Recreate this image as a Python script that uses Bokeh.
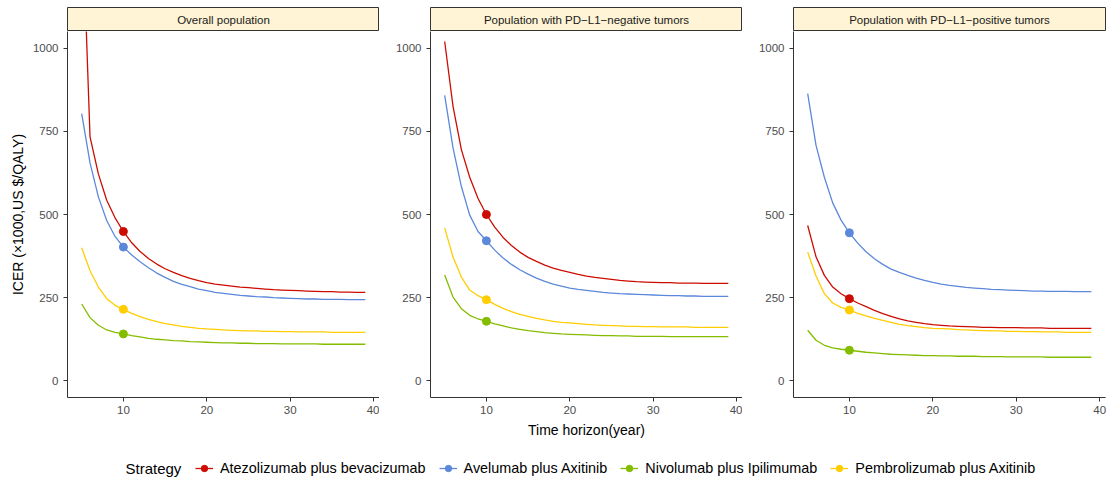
from bokeh.plotting import figure
from bokeh.models import Range1d, FixedTicker, Legend, LegendItem, Label
from bokeh.layouts import row, column
from bokeh.embed import file_html
from bokeh.resources import INLINE

# Time horizon in years
YEARS = [5, 6, 7, 8, 9, 10, 11, 12, 13, 14, 15, 16, 17, 18, 19, 20, 21, 22,
         23, 24, 25, 26, 27, 28, 29, 30, 31, 32, 33, 34, 35, 36, 37, 38, 39]
BASE_YEAR = 10

STRATEGIES = ["Atezolizumab plus bevacizumab", "Avelumab plus Axitinib",
              "Nivolumab plus Ipilimumab", "Pembrolizumab plus Axitinib"]
COLORS = ["#CC0C00", "#5C88DA", "#84BD00", "#FFCD00"]

PANEL_TITLES = ["Overall population",
                "Population with PD\u2212L1\u2212negative tumors",
                "Population with PD\u2212L1\u2212positive tumors"]

Y_TICKS = [0, 250, 500, 750, 1000]
X_TICKS = [10, 20, 30, 40]

# ICER (x1000 US$/QALY), overall population
OVERALL_ATEZO = [1450, 733, 622, 543, 490, 449, 415, 389, 368, 351, 337, 326, 316, 308, 301, 295, 291, 288,
                 285, 282, 280, 278, 276, 274, 273, 272, 271, 270, 269, 268, 268, 267, 267, 266, 266]
OVERALL_AVEL = [803, 655, 553, 482, 434, 402, 378, 358, 340, 324, 311, 299, 290, 283, 276, 271, 266, 263,
                260, 257, 255, 253, 252, 250, 249, 248, 247, 246, 246, 245, 245, 245, 244, 244, 244]
OVERALL_NIVO = [231, 190, 167, 153, 146, 141, 136, 132, 128, 125, 123, 121, 120, 118, 117, 116, 115, 114,
                114, 113, 113, 112, 112, 112, 111, 111, 111, 111, 111, 110, 110, 110, 110, 110, 110]
OVERALL_PEMBRO = [400, 331, 282, 247, 227, 215, 203, 193, 185, 178, 172, 168, 164, 161, 158, 156, 155, 153,
                  152, 151, 150, 150, 149, 149, 148, 148, 147, 147, 147, 147, 146, 146, 146, 146, 146]

# PD-L1-negative tumors
NEG_ATEZO = [1020, 825, 695, 612, 548, 500, 462, 431, 407, 387, 371, 359, 348, 339, 332, 326, 320, 315,
             311, 308, 305, 302, 300, 298, 297, 296, 295, 295, 294, 294, 294, 293, 293, 293, 293]
NEG_AVEL = [858, 700, 584, 498, 449, 421, 393, 369, 350, 334, 321, 309, 299, 291, 285, 279, 275, 272,
            269, 266, 264, 262, 261, 260, 259, 258, 257, 256, 256, 255, 255, 254, 254, 254, 254]
NEG_NIVO = [318, 252, 217, 197, 186, 179, 171, 165, 159, 155, 151, 148, 145, 143, 141, 140, 139, 138,
            137, 136, 136, 135, 135, 134, 134, 134, 134, 133, 133, 133, 133, 133, 133, 133, 133]
NEG_PEMBRO = [460, 372, 312, 273, 256, 244, 230, 218, 208, 200, 194, 188, 183, 179, 176, 174, 172, 170,
              168, 167, 166, 165, 164, 164, 163, 163, 162, 162, 162, 162, 161, 161, 161, 161, 161]

# PD-L1-positive tumors
POS_ATEZO = [467, 373, 317, 282, 262, 247, 234, 223, 212, 202, 194, 186, 180, 176, 172, 169, 167, 165,
             164, 163, 162, 161, 161, 160, 160, 160, 159, 159, 159, 158, 158, 158, 158, 158, 158]
POS_AVEL = [863, 708, 612, 535, 483, 445, 414, 388, 367, 350, 336, 326, 317, 309, 302, 296, 291, 287,
            284, 281, 279, 277, 275, 274, 273, 272, 271, 270, 270, 269, 269, 269, 268, 268, 268]
POS_NIVO = [152, 122, 107, 99, 95, 92, 89, 86, 84, 82, 80, 79, 78, 77, 76, 76, 75, 75,
            74, 74, 74, 73, 73, 73, 72, 72, 72, 72, 72, 71, 71, 71, 71, 71, 71]
POS_PEMBRO = [387, 315, 262, 234, 221, 213, 203, 195, 188, 182, 176, 170, 166, 163, 160, 158, 157, 156,
              154, 153, 152, 151, 150, 150, 149, 149, 148, 148, 147, 147, 147, 146, 146, 146, 146]

PANEL_SERIES = [
    [OVERALL_ATEZO, OVERALL_AVEL, OVERALL_NIVO, OVERALL_PEMBRO],
    [NEG_ATEZO, NEG_AVEL, NEG_NIVO, NEG_PEMBRO],
    [POS_ATEZO, POS_AVEL, POS_NIVO, POS_PEMBRO],
]

FONT = "Liberation Sans"
STRIP_FILL = "#FFF4D5"
AXIS_COLOR = "#333333"
FRAME_W = 312
FRAME_H = 366


def make_strip(title, left, right):
    s = figure(frame_width=FRAME_W, frame_height=24, min_border_left=left, min_border_right=right,
               min_border_top=7, min_border_bottom=0,
               x_range=Range1d(0, 1), y_range=Range1d(0, 1),
               x_axis_location=None, y_axis_location=None,
               toolbar_location=None, output_backend="svg")
    s.grid.visible = False
    s.background_fill_color = STRIP_FILL
    s.border_fill_color = "white"
    s.outline_line_color = AXIS_COLOR
    s.outline_line_width = 1
    s.add_layout(Label(x=0.5, y=0.5, text=title, text_align="center", text_baseline="middle",
                       text_font=FONT, text_font_size="11.5px", text_color="#1A1A1A"))
    return s


def style_axis(ax):
    ax.axis_line_color = AXIS_COLOR
    ax.axis_line_width = 1
    ax.major_tick_line_color = AXIS_COLOR
    ax.major_tick_out = 4
    ax.major_tick_in = 0
    ax.minor_tick_line_color = None
    ax.major_label_text_color = "#4D4D4D"
    ax.major_label_text_font = FONT
    ax.major_label_text_font_size = "11.5px"
    ax.axis_label_text_font = FONT
    ax.axis_label_text_font_size = "14px"
    ax.axis_label_text_font_style = "normal"
    ax.axis_label_text_color = "black"


def make_panel(series, left, right, xlabel=None, ylabel=None):
    p = figure(frame_width=FRAME_W, frame_height=FRAME_H, min_border_left=left, min_border_right=right,
               min_border_top=0, min_border_bottom=45,
               x_range=Range1d(3.3, 40.7), y_range=Range1d(-50, 1050),
               toolbar_location=None, output_backend="svg")
    p.outline_line_color = None
    p.grid.visible = False
    p.border_fill_color = "white"
    p.xaxis.ticker = FixedTicker(ticks=X_TICKS)
    p.yaxis.ticker = FixedTicker(ticks=Y_TICKS)
    for ax in (p.xaxis[0], p.yaxis[0]):
        style_axis(ax)
    p.xaxis.major_label_standoff = 4
    p.yaxis.major_label_standoff = 5
    if xlabel:
        p.xaxis.axis_label = xlabel
        p.xaxis.axis_label_standoff = 5
    if ylabel:
        p.yaxis.axis_label = ylabel
        p.yaxis.axis_label_standoff = 4
    i10 = YEARS.index(BASE_YEAR)
    for vals, color in zip(series, COLORS):
        p.line(YEARS, vals, line_color=color, line_width=1.3)
        p.scatter([YEARS[i10]], [vals[i10]], size=8, fill_color=color, line_color=color)
    return p


borders = [(67, 0), (51, 0), (51, 6)]
columns = []
for k, (title, series) in enumerate(zip(PANEL_TITLES, PANEL_SERIES)):
    left, right = borders[k]
    strip = make_strip(title, left, right)
    panel = make_panel(series, left, right,
                       xlabel="Time horizon(year)" if k == 1 else None,
                       ylabel="ICER (\u00d71000,US $/QALY)" if k == 0 else None)
    columns.append(column(strip, panel, spacing=0))

# Shared legend strip along the bottom; its renderers carry the overall series,
# which fall outside this strip's unit ranges so only the legend keys show.
lf = figure(width=1111, height=41, x_range=Range1d(0, 1), y_range=Range1d(0, 1),
            x_axis_location=None, y_axis_location=None, min_border=0,
            toolbar_location=None, output_backend="svg")
lf.grid.visible = False
lf.outline_line_color = None
lf.border_fill_color = "white"
items = []
i10 = YEARS.index(BASE_YEAR)
for name, color, vals in zip(STRATEGIES, COLORS, PANEL_SERIES[0]):
    rl = lf.line(YEARS, vals, line_color=color, line_width=1.3)
    rs = lf.scatter([YEARS[i10]], [vals[i10]], size=7, fill_color=color, line_color=color)
    items.append(LegendItem(label=name, renderers=[rl, rs]))
legend = Legend(items=items, orientation="horizontal", location=(195, 7),
                glyph_width=18, glyph_height=16, label_height=16, label_standoff=7, spacing=13,
                padding=0, margin=0, border_line_color=None, background_fill_alpha=0,
                label_text_font=FONT, label_text_font_size="14.4px", label_text_color="black")
lf.add_layout(legend)
lf.add_layout(Label(x=125, y=15, x_units="screen", y_units="screen", text="Strategy",
                    text_baseline="middle", text_font=FONT, text_font_size="15px", text_color="black"))

layout = column(row(*columns, spacing=0), lf, spacing=0)

open("out.html", "w").write(file_html(layout, INLINE))
